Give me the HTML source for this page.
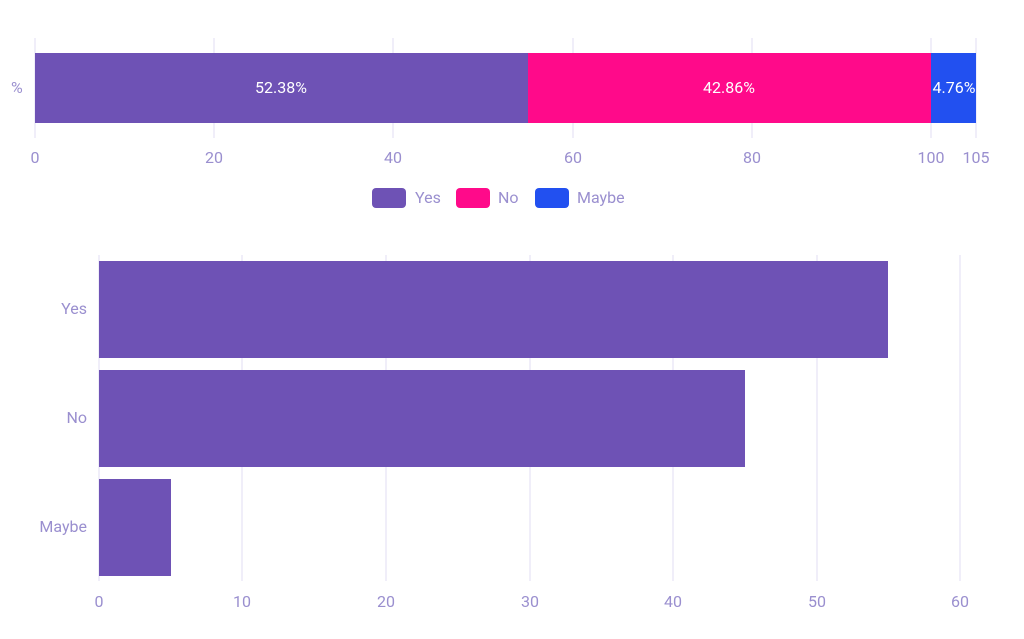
<!DOCTYPE html>
<html><head><meta charset="utf-8"><style>body{margin:0;background:#fff}svg{display:block}</style></head><body>
<svg width="1024" height="639" xmlns="http://www.w3.org/2000/svg" font-family="Roboto, 'Liberation Sans', sans-serif" font-size="16" fill="#9a8fcf">
<g stroke="#e6e3f5" stroke-width="1.2">
<line x1="35" y1="38" x2="35" y2="138"/><line x1="214" y1="38" x2="214" y2="138"/><line x1="393" y1="38" x2="393" y2="138"/><line x1="573" y1="38" x2="573" y2="138"/><line x1="752" y1="38" x2="752" y2="138"/><line x1="931" y1="38" x2="931" y2="138"/><line x1="976" y1="38" x2="976" y2="138"/>
<line x1="99" y1="255" x2="99" y2="581"/><line x1="242" y1="255" x2="242" y2="581"/><line x1="386" y1="255" x2="386" y2="581"/><line x1="530" y1="255" x2="530" y2="581"/><line x1="673" y1="255" x2="673" y2="581"/><line x1="817" y1="255" x2="817" y2="581"/><line x1="960" y1="255" x2="960" y2="581"/>
</g>
<rect x="35" y="53" width="493" height="70" fill="#6e52b5"/>
<rect x="528" y="53" width="403" height="70" fill="#ff0a8a"/>
<rect x="931" y="53" width="45" height="70" fill="#2250f0"/>
<g fill="#fff" text-anchor="middle"><text x="281" y="93">52.38%</text><text x="729" y="93">42.86%</text><text x="954" y="93">4.76%</text></g>
<text x="11" y="93">%</text>
<g text-anchor="middle"><text x="35" y="163">0</text><text x="214" y="163">20</text><text x="393" y="163">40</text><text x="573" y="163">60</text><text x="752" y="163">80</text><text x="931" y="163">100</text><text x="976" y="163">105</text></g>
<rect x="372" y="188" width="34" height="20" rx="4" fill="#6e52b5"/><text x="415" y="203">Yes</text>
<rect x="456" y="188" width="34" height="20" rx="4" fill="#ff0a8a"/><text x="498" y="203">No</text>
<rect x="535" y="188" width="34" height="20" rx="4" fill="#2250f0"/><text x="577" y="203">Maybe</text>
<rect x="99" y="261" width="789" height="97" fill="#6e52b5"/>
<rect x="99" y="370" width="646" height="97" fill="#6e52b5"/>
<rect x="99" y="479" width="72" height="97" fill="#6e52b5"/>
<g text-anchor="end"><text x="87" y="314">Yes</text><text x="87" y="423">No</text><text x="87" y="532">Maybe</text></g>
<g text-anchor="middle"><text x="99" y="607">0</text><text x="242" y="607">10</text><text x="386" y="607">20</text><text x="530" y="607">30</text><text x="673" y="607">40</text><text x="817" y="607">50</text><text x="960" y="607">60</text></g>
</svg>
</body></html>
